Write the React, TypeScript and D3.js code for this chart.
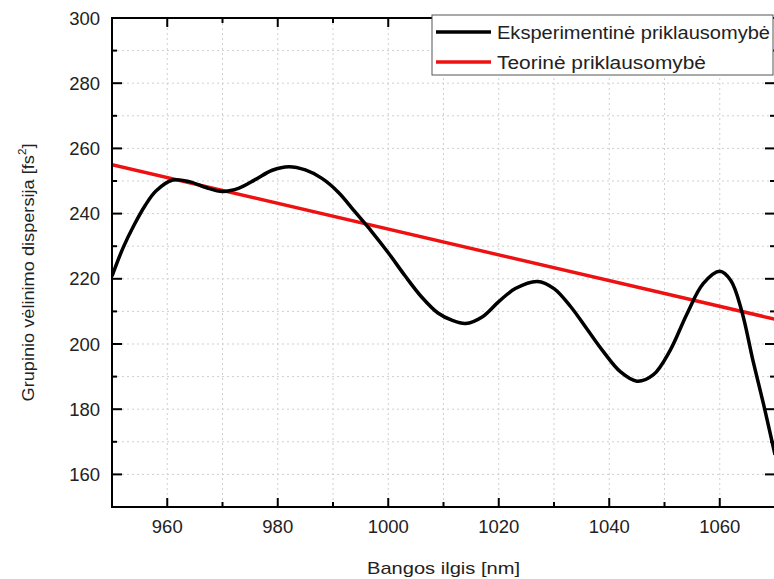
import React from "react";
import * as d3 from "d3";

const expWavelength = [950, 952, 954, 956, 958, 961, 964, 967, 970, 973, 976, 979, 982, 985, 988, 991, 994, 997, 1000, 1003, 1006, 1009, 1011.5, 1014, 1017, 1020, 1023, 1027, 1030, 1033, 1036, 1039, 1042, 1045, 1048, 1051, 1054, 1057, 1060, 1062, 1064, 1066, 1068, 1070];
const expValue = [220.8, 229.5, 236.5, 242.5, 247, 250.3, 249.8, 248, 246.8, 247.8, 250.5, 253.3, 254.4, 253.4, 250.8, 246.5, 240.5, 234.5, 228, 221, 214.5, 209.5, 207.3, 206.3, 208.3, 213, 217, 219.2, 217, 211.5, 204.5, 197.5, 191.5, 188.6, 190.6, 198, 209, 218.5, 222.3, 219.5, 210, 195, 181, 166];
const theoWavelength = [950, 1070];
const theoValue = [255, 207.6];

const xTicks = [960, 980, 1000, 1020, 1040, 1060];
const yTicks = [160, 180, 200, 220, 240, 260, 280, 300];
const xMinor = d3.range(950, 1071, 10);
const yMinor = d3.range(150, 301, 10);

const seriesNames = ["Eksperimentinė priklausomybė", "Teorinė priklausomybė"];

export default function App() {
  const W = 774, H = 579;
  const L = 112, R = 775, T = 18, B = 507;
  const x = d3.scaleLinear().domain([950, 1070]).range([L, R]);
  const y = d3.scaleLinear().domain([150, 300]).range([B, T]);
  const expPath = d3.line<[number, number]>().x(d => x(d[0])).y(d => y(d[1])).curve(d3.curveCatmullRom.alpha(0.5))(expWavelength.map((w, i) => [w, expValue[i]]) as [number, number][]) || "";
  const theoPath = d3.line<[number, number]>().x(d => x(d[0])).y(d => y(d[1]))(theoWavelength.map((w, i) => [w, theoValue[i]]) as [number, number][]) || "";
  const font = "Arial, 'Liberation Sans', sans-serif";
  const legX = 432, legY = 15, legW = 341, legH = 60;
  return (
    <div style={{ position: "fixed", left: 0, top: 0 }}>
      <svg width={W} height={H} style={{ display: "block", background: "#fff" }} fontFamily={font}>
        <defs>
          <clipPath id="plot"><rect x={L} y={T} width={R - L} height={B - T} /></clipPath>
        </defs>
        {xMinor.filter(v => v > 950 && v < 1070).map(v => (
          <line key={"gx" + v} x1={x(v)} x2={x(v)} y1={T} y2={B} stroke="#cfcfcf" strokeWidth={1} strokeDasharray="2,3" />
        ))}
        {yMinor.filter(v => v > 150 && v < 300).map(v => (
          <line key={"gy" + v} x1={L} x2={R} y1={y(v)} y2={y(v)} stroke="#cfcfcf" strokeWidth={1} strokeDasharray="2,3" />
        ))}
        <g clipPath="url(#plot)">
          <path d={theoPath} fill="none" stroke="#ee1111" strokeWidth={3.5} />
          <path d={expPath} fill="none" stroke="#000" strokeWidth={3.5} strokeLinejoin="round" />
        </g>
        <rect x={L} y={T} width={R - L} height={B - T} fill="none" stroke="#000" strokeWidth={2} />
        {xMinor.map(v => {
          const major = xTicks.includes(v);
          const len = major ? 9 : 5;
          return (
            <g key={"tx" + v}>
              <line x1={x(v)} x2={x(v)} y1={B} y2={B - len} stroke="#000" strokeWidth={2} />
              <line x1={x(v)} x2={x(v)} y1={T} y2={T + len} stroke="#000" strokeWidth={2} />
            </g>
          );
        })}
        {yMinor.map(v => {
          const major = yTicks.includes(v);
          const len = major ? 10 : 5;
          return (
            <g key={"ty" + v}>
              <line x1={L} x2={L + len} y1={y(v)} y2={y(v)} stroke="#000" strokeWidth={2} />
              <line x1={R} x2={R - len} y1={y(v)} y2={y(v)} stroke="#000" strokeWidth={2} />
            </g>
          );
        })}
        {xTicks.map(v => (
          <text key={"lx" + v} x={x(v)} y={533} textAnchor="middle" fontSize={18.5} fill="#222">{v}</text>
        ))}
        {yTicks.map(v => (
          <text key={"ly" + v} x={100} y={y(v) + 6.5} textAnchor="end" fontSize={18.5} fill="#222">{v}</text>
        ))}
        <text x={(L + R) / 2} y={574} textAnchor="middle" fontSize={17} fill="#222" textLength={153} lengthAdjust="spacingAndGlyphs">Bangos ilgis [nm]</text>
        <text transform={`translate(34, ${(T + B) / 2 + 10}) rotate(-90)`} textAnchor="middle" fontSize={17} fill="#222" textLength={258} lengthAdjust="spacingAndGlyphs">
          Grupinio vėlinimo dispersija [fs<tspan fontSize={11} dy={-8}>2</tspan><tspan dy={8}>]</tspan>
        </text>
        <rect x={legX} y={legY} width={legW} height={legH} fill="#fff" stroke="#555" strokeWidth={1} />
        <line x1={436} x2={491} y1={32} y2={32} stroke="#000" strokeWidth={3.5} />
        <line x1={436} x2={491} y1={62} y2={62} stroke="#ee1111" strokeWidth={3.5} />
        <text x={497} y={39} fontSize={17.5} fill="#222" textLength={273} lengthAdjust="spacingAndGlyphs">{seriesNames[0]}</text>
        <text x={497} y={69} fontSize={17.5} fill="#222" textLength={209} lengthAdjust="spacingAndGlyphs">{seriesNames[1]}</text>
      </svg>
    </div>
  );
}
